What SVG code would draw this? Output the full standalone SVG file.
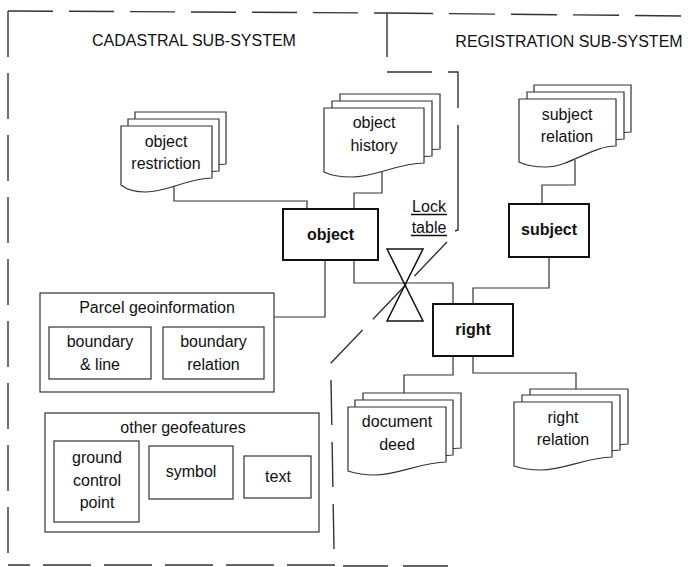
<svg xmlns="http://www.w3.org/2000/svg" xmlns:xlink="http://www.w3.org/1999/xlink" width="688" height="567" viewBox="0 0 688 567">
<style>
  text { font-family: "Liberation Sans", Arial, sans-serif; font-size: 16px; fill: #111; text-anchor: middle; }
  .bold { font-weight: bold; }
  .doc { fill: #fff; stroke: #333; stroke-width: 1.2; }
  .box { fill: #fff; stroke: #333; stroke-width: 1.2; }
  .ent { fill: #fff; stroke: #111; stroke-width: 2; }
  .conn { fill: none; stroke: #333; stroke-width: 1.2; }
  .bound { fill: none; stroke: #333; stroke-width: 1.4; }
  .lock { fill: none; stroke: #111; stroke-width: 1.5; }
</style>
<defs>
  <path id="doc-or" d="M121,126 H212 V178 C189,178 167,192 146,192 C134,192 126,189 121,185 Z"/>
  <path id="doc-oh" d="M324,108 H424 V163 C399,163 375,177 352,177 C339,177 330,175 324,172 Z"/>
  <path id="doc-sr" d="M519,99 H616 V146 C592,146 569,167 546,167 C533,167 525,165 519,162 Z"/>
  <path id="doc-dd" d="M348,407 H446 V462 C422,462 398,475 375,475 C362,475 354,473 348,471 Z"/>
  <path id="doc-rr" d="M514,402 H612 V457 C588,457 564,470 541,470 C528,470 520,468 514,466 Z"/>
</defs>

<g id="boundaries">
  <line class="bound" x1="8" y1="11" x2="387" y2="13" stroke-dasharray="45 16"/>
  <line class="bound" x1="8" y1="11" x2="8" y2="565" stroke-dasharray="46 16"/>
  <line class="bound" x1="335" y1="565" x2="8" y2="565" stroke-dasharray="48 13"/>
  <line class="bound" x1="331" y1="380" x2="334" y2="550" stroke-dasharray="45 17"/>
  <line class="bound" x1="447" y1="242" x2="330" y2="364" stroke-dasharray="47 12 48 15 46"/>
  <path class="bound" d="M387,13 V72 H458 V230 L455,231" stroke-dasharray="44 15 45 16 46 17 110"/>
  <line class="bound" x1="387" y1="13" x2="688" y2="16" stroke-dasharray="46 16"/>
  <line class="bound" x1="343" y1="566" x2="452" y2="566" stroke-dasharray="45 15"/>
  <text x="194" y="46">CADASTRAL SUB-SYSTEM</text>
  <text x="569" y="47">REGISTRATION SUB-SYSTEM</text>
</g>

<g id="connectors">
  <path class="conn" d="M174,185 V201 H307 V209"/>
  <path class="conn" d="M382,170 V193 H354 V209"/>
  <path class="conn" d="M325,260 V317 H274"/>
  <path class="conn" d="M354,260 V283 H453 V304"/>
  <path class="conn" d="M575,160 V185 H542 V204"/>
  <path class="conn" d="M549,257 V288 H473 V304"/>
  <path class="conn" d="M453,356 V375 H404 V393"/>
  <path class="conn" d="M473,356 V373 H576 V389"/>
</g>

<g id="object-restriction">
  <use xlink:href="#doc-or" href="#doc-or" class="doc" x="14" y="-14"/>
  <use xlink:href="#doc-or" href="#doc-or" class="doc" x="7" y="-7"/>
  <use xlink:href="#doc-or" href="#doc-or" class="doc"/>
  <text x="166" y="147">object</text>
  <text x="166" y="169">restriction</text>
</g>

<g id="object-history">
  <use xlink:href="#doc-oh" href="#doc-oh" class="doc" x="16" y="-14"/>
  <use xlink:href="#doc-oh" href="#doc-oh" class="doc" x="8" y="-7"/>
  <use xlink:href="#doc-oh" href="#doc-oh" class="doc"/>
  <text x="374" y="128">object</text>
  <text x="374" y="151">history</text>
</g>

<g id="subject-relation">
  <use xlink:href="#doc-sr" href="#doc-sr" class="doc" x="15" y="-14"/>
  <use xlink:href="#doc-sr" href="#doc-sr" class="doc" x="8" y="-7"/>
  <use xlink:href="#doc-sr" href="#doc-sr" class="doc"/>
  <text x="567" y="120">subject</text>
  <text x="567" y="142">relation</text>
</g>

<g id="object">
  <rect class="ent" x="283" y="209" width="95" height="51"/>
  <text class="bold" x="330.5" y="240">object</text>
</g>

<g id="subject">
  <rect class="ent" x="509" y="204" width="80" height="53"/>
  <text class="bold" x="549" y="235">subject</text>
</g>

<g id="right">
  <rect class="ent" x="433" y="304" width="80" height="52"/>
  <text class="bold" x="473" y="335">right</text>
</g>

<g id="lock-table">
  <path class="lock" d="M387,249 H423 L387,321 H423 Z"/>
  <text x="429" y="212">Lock</text>
  <text x="429" y="233">table</text>
  <line x1="411" y1="214.5" x2="447" y2="214.5" stroke="#111" stroke-width="1.6"/>
  <line x1="411" y1="235.5" x2="447" y2="235.5" stroke="#111" stroke-width="1.6"/>
</g>

<g id="parcel-geoinformation">
  <rect class="box" x="40" y="293" width="234" height="99"/>
  <text x="157" y="313">Parcel geoinformation</text>
  <g id="boundary-line">
    <rect class="box" x="49" y="327" width="102" height="52"/>
    <text x="100" y="347">boundary</text>
    <text x="100" y="370">&amp; line</text>
  </g>
  <g id="boundary-relation">
    <rect class="box" x="163" y="327" width="101" height="52"/>
    <text x="213.5" y="347">boundary</text>
    <text x="213.5" y="370">relation</text>
  </g>
</g>

<g id="other-geofeatures">
  <rect class="box" x="45" y="413" width="274" height="119"/>
  <text x="183" y="433">other geofeatures</text>
  <g id="ground-control-point">
    <rect class="box" x="54" y="441" width="85" height="81"/>
    <text x="97" y="463">ground</text>
    <text x="97" y="486">control</text>
    <text x="97" y="508">point</text>
  </g>
  <g id="symbol">
    <rect class="box" x="149" y="446" width="84" height="53"/>
    <text x="191" y="477">symbol</text>
  </g>
  <g id="text">
    <rect class="box" x="244" y="456" width="67" height="42"/>
    <text x="278" y="482">text</text>
  </g>
</g>

<g id="document-deed">
  <use xlink:href="#doc-dd" href="#doc-dd" class="doc" x="15" y="-14"/>
  <use xlink:href="#doc-dd" href="#doc-dd" class="doc" x="7" y="-7"/>
  <use xlink:href="#doc-dd" href="#doc-dd" class="doc"/>
  <text x="397" y="427">document</text>
  <text x="397" y="450">deed</text>
</g>

<g id="right-relation">
  <use xlink:href="#doc-rr" href="#doc-rr" class="doc" x="16" y="-13"/>
  <use xlink:href="#doc-rr" href="#doc-rr" class="doc" x="8" y="-7"/>
  <use xlink:href="#doc-rr" href="#doc-rr" class="doc"/>
  <text x="563" y="423">right</text>
  <text x="563" y="445">relation</text>
</g>
</svg>
